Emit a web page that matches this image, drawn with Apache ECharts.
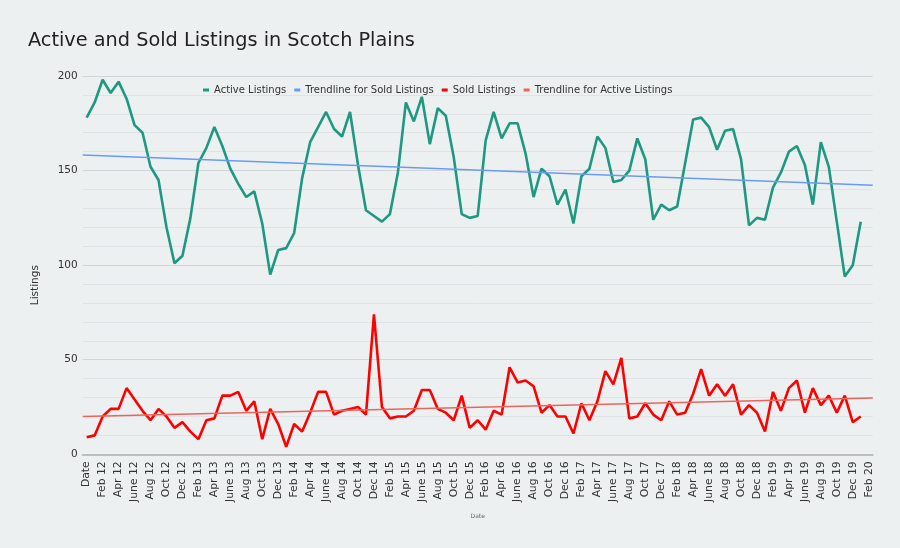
<!DOCTYPE html>
<html>
<head>
<meta charset="utf-8">
<script src="https://cdn.jsdelivr.net/npm/echarts@6/dist/echarts.min.js"></script>
<style>
html,body{margin:0;padding:0;background:#ecf0f1;}
#chart{width:900px;height:548px;}
</style>
</head>
<body>
<div id="chart"></div>
<script>
var categories = ["Date",
 "Jan 12","Feb 12","Mar 12","Apr 12","May 12","June 12","July 12","Aug 12","Sept 12","Oct 12","Nov 12","Dec 12",
 "Jan 13","Feb 13","Mar 13","Apr 13","May 13","June 13","July 13","Aug 13","Sept 13","Oct 13","Nov 13","Dec 13",
 "Jan 14","Feb 14","Mar 14","Apr 14","May 14","June 14","July 14","Aug 14","Sept 14","Oct 14","Nov 14","Dec 14",
 "Jan 15","Feb 15","Mar 15","Apr 15","May 15","June 15","July 15","Aug 15","Sept 15","Oct 15","Nov 15","Dec 15",
 "Jan 16","Feb 16","Mar 16","Apr 16","May 16","June 16","July 16","Aug 16","Sept 16","Oct 16","Nov 16","Dec 16",
 "Jan 17","Feb 17","Mar 17","Apr 17","May 17","June 17","July 17","Aug 17","Sept 17","Oct 17","Nov 17","Dec 17",
 "Jan 18","Feb 18","Mar 18","Apr 18","May 18","June 18","July 18","Aug 18","Sept 18","Oct 18","Nov 18","Dec 18",
 "Jan 19","Feb 19","Mar 19","Apr 19","May 19","June 19","July 19","Aug 19","Sept 19","Oct 19","Nov 19","Dec 19",
 "Jan 20","Feb 20"];

var activeListings = [178,186,198,191,197,188,174,170,152,145,120,101,105,125,154,162,173,163,151,143,
 136,139,122,95,108,109,117,146,165,173,181,172,168,181,
 153,129,126,123,127,149,186,176,189,164,183,179,157,127,125,126,166,181,167,175,
 175,159,136,151,147,132,140,122,147,151,168,162,144,145,150,167,
 156,124,132,129,131,154,177,178,173,161,171,172,156,121,125,124,141,149,160,163,
 153,132,165,152,123,94,100,123, null];

var soldListings = [9,10,20,24,24,35,29,23,18,24,20,14,17,12,8,18,19,31,31,33,
 23,28,8,24,16,4,16,12,22,33,33,21,23,24,25,21,
 74,25,19,20,20,23,34,34,24,22,18,31,14,18,13,23,21,46,38,39,
 36,22,26,20,20,11,27,18,28,44,37,51,19,20,
 27,21,18,28,21,22,32,45,31,37,31,37,21,26,22,12,33,23,35,39,
 22,35,26,31,22,31,17,20, null];

// trendline end values (start of x range, end of x range)
var trendSoldLabelled = [158.2, 142.3];
var trendActiveLabelled = [20.0, 29.7];
var trendPos = [0, 1];

var yTicks = [0, 50, 100, 150, 200];

var FONT = 'DejaVu Sans';
var chart = echarts.init(document.getElementById('chart'), null, {renderer: 'canvas'});

function pairs(xs, ys){ return xs.map(function(x, i){ return [x, ys[i]]; }); }

var option = {
  backgroundColor: '#ecf0f1',
  animation: false,
  title: {
    text: 'Active and Sold Listings in Scotch Plains',
    left: 28, top: 31, padding: 0,
    textStyle: {fontFamily: FONT, fontSize: 19.3, fontWeight: 'normal', color: '#222'}
  },
  legend: {
    left: 203, top: 85, padding: 0,
    itemWidth: 6, itemHeight: 3, itemGap: 8,
    icon: 'rect',
    textStyle: {fontFamily: FONT, fontSize: 10, color: '#333'},
    data: ['Active Listings', 'Trendline for Sold Listings', 'Sold Listings', 'Trendline for Active Listings']
  },
  grid: {left: 82.7, right: 27.3, top: 76, bottom: 93.7, containLabel: false, outerBoundsMode: 'none'},
  xAxis: [{
    type: 'category',
    data: categories,
    boundaryGap: true,
    name: 'Date',
    nameLocation: 'middle',
    nameGap: 59,
    nameTextStyle: {fontFamily: FONT, fontSize: 6, color: '#666'},
    axisLine: {show: true, lineStyle: {color: '#bcbec0', width: 2}},
    axisTick: {show: false},
    axisLabel: {interval: 1, rotate: 90, margin: 7, fontFamily: FONT, fontSize: 10.8, color: '#333'},
    splitLine: {show: false}
  }, {
    type: 'value', min: 0, max: 1, show: false
  }],
  yAxis: {
    type: 'value',
    min: yTicks[0], max: yTicks[yTicks.length-1], interval: 50,
    name: 'Listings',
    nameLocation: 'middle',
    nameGap: 42,
    nameTextStyle: {fontFamily: FONT, fontSize: 10.5, color: '#333', align: 'right'},
    axisLine: {show: false},
    axisTick: {show: false},
    axisLabel: {fontFamily: FONT, fontSize: 10.5, color: '#333', margin: 5},
    splitLine: {show: true, lineStyle: {color: '#d2d5d7', width: 1}},
    minorTick: {show: false, splitNumber: 5},
    minorSplitLine: {show: true, lineStyle: {color: '#e0e3e5', width: 1}}
  },
  series: [{
    name: 'Active Listings', type: 'line', data: activeListings,
    symbol: 'none', lineStyle: {color: '#1f9882', width: 2.6}, itemStyle: {color: '#1f9882'}
  }, {
    name: 'Trendline for Sold Listings', type: 'line', xAxisIndex: 1,
    data: pairs(trendPos, trendSoldLabelled),
    symbol: 'none', lineStyle: {color: '#6a9bf2', width: 1.5}, itemStyle: {color: '#6a9bf2'}
  }, {
    name: 'Sold Listings', type: 'line', data: soldListings,
    symbol: 'none', lineStyle: {color: '#ff0000', width: 2.6}, itemStyle: {color: '#ff0000'}
  }, {
    name: 'Trendline for Active Listings', type: 'line', xAxisIndex: 1,
    data: pairs(trendPos, trendActiveLabelled),
    symbol: 'none', lineStyle: {color: '#ec645c', width: 1.5}, itemStyle: {color: '#ec645c'}
  }]
};
chart.setOption(option);
</script>
</body>
</html>
